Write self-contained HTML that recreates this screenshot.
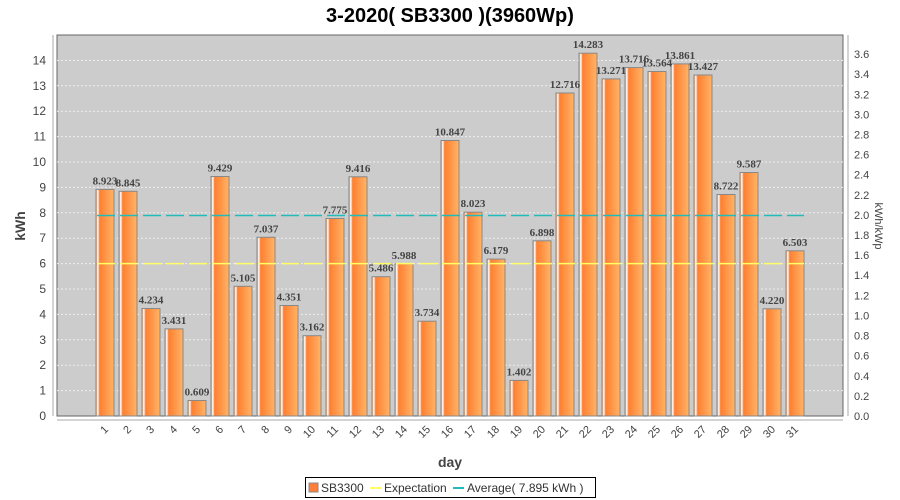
<!DOCTYPE html>
<html><head><meta charset="utf-8"><style>body{margin:0;background:#fff}svg{display:block;font-family:"Liberation Sans",sans-serif}</style></head><body>
<svg width="900" height="500" xmlns="http://www.w3.org/2000/svg">
<defs>
<linearGradient id="g" x1="0" x2="1" y1="0" y2="0">
<stop offset="0" stop-color="#ff8a3a"/><stop offset="0.1" stop-color="#fff"/><stop offset="0.2" stop-color="#ff7f30"/><stop offset="1" stop-color="#ffb468"/>
</linearGradient>
</defs>
<text x="450" y="22" text-anchor="middle" font-size="20" font-weight="bold" fill="#000">3-2020( SB3300 )(3960Wp)</text>
<rect x="57" y="35" width="786" height="381" fill="#cccccc" stroke="#666" stroke-width="1"/>
<g stroke="#eee" stroke-dasharray="2,2" stroke-width="1">
<line x1="57" x2="843" y1="390.6" y2="390.6"/><line x1="57" x2="843" y1="365.2" y2="365.2"/><line x1="57" x2="843" y1="339.8" y2="339.8"/><line x1="57" x2="843" y1="314.4" y2="314.4"/><line x1="57" x2="843" y1="289" y2="289"/><line x1="57" x2="843" y1="263.6" y2="263.6"/><line x1="57" x2="843" y1="238.2" y2="238.2"/><line x1="57" x2="843" y1="212.8" y2="212.8"/><line x1="57" x2="843" y1="187.4" y2="187.4"/><line x1="57" x2="843" y1="162" y2="162"/><line x1="57" x2="843" y1="136.6" y2="136.6"/><line x1="57" x2="843" y1="111.2" y2="111.2"/><line x1="57" x2="843" y1="85.8" y2="85.8"/><line x1="57" x2="843" y1="60.4" y2="60.4"/>
</g>
<g fill="url(#g)" stroke="#888" stroke-width="1">
<rect x="96" y="189.4" width="18" height="226.6"/><rect x="119" y="191.3" width="18" height="224.7"/><rect x="142" y="308.5" width="18" height="107.5"/><rect x="165" y="328.9" width="18" height="87.1"/><rect x="188" y="400.5" width="18" height="15.5"/><rect x="211" y="176.5" width="18" height="239.5"/><rect x="234" y="286.3" width="18" height="129.7"/><rect x="257" y="237.3" width="18" height="178.7"/><rect x="280" y="305.5" width="18" height="110.5"/><rect x="303" y="335.7" width="18" height="80.3"/><rect x="326" y="218.5" width="18" height="197.5"/><rect x="349" y="176.8" width="18" height="239.2"/><rect x="372" y="276.7" width="18" height="139.3"/><rect x="395" y="263.9" width="18" height="152.1"/><rect x="418" y="321.2" width="18" height="94.8"/><rect x="441" y="140.5" width="18" height="275.5"/><rect x="464" y="212.2" width="18" height="203.8"/><rect x="487" y="259.1" width="18" height="156.9"/><rect x="510" y="380.4" width="18" height="35.6"/><rect x="533" y="240.8" width="18" height="175.2"/><rect x="556" y="93" width="18" height="323"/><rect x="579" y="53.2" width="18" height="362.8"/><rect x="602" y="78.9" width="18" height="337.1"/><rect x="625" y="67.6" width="18" height="348.4"/><rect x="648" y="71.5" width="18" height="344.5"/><rect x="671" y="63.9" width="18" height="352.1"/><rect x="694" y="75" width="18" height="341"/><rect x="717" y="194.5" width="18" height="221.5"/><rect x="740" y="172.5" width="18" height="243.5"/><rect x="763" y="308.8" width="18" height="107.2"/><rect x="786" y="250.8" width="18" height="165.2"/>
</g>
<line x1="97" x2="804" y1="263.6" y2="263.6" stroke="#ffff66" stroke-width="1.5" stroke-dasharray="18,5"/>
<line x1="97" x2="804" y1="215.5" y2="215.5" stroke="#22bbbb" stroke-width="1.5" stroke-dasharray="18,5"/>
<g font-family="Liberation Serif,serif" font-weight="bold" font-size="11" fill="#444" text-anchor="middle">
<text x="105" y="184.4">8.923</text><text x="128" y="186.3">8.845</text><text x="151" y="303.5">4.234</text><text x="174" y="323.9">3.431</text><text x="197" y="395.5">0.609</text><text x="220" y="171.5">9.429</text><text x="243" y="281.3">5.105</text><text x="266" y="232.3">7.037</text><text x="289" y="300.5">4.351</text><text x="312" y="330.7">3.162</text><text x="335" y="213.5">7.775</text><text x="358" y="171.8">9.416</text><text x="381" y="271.7">5.486</text><text x="404" y="258.9">5.988</text><text x="427" y="316.2">3.734</text><text x="450" y="135.5">10.847</text><text x="473" y="207.2">8.023</text><text x="496" y="254.1">6.179</text><text x="519" y="375.4">1.402</text><text x="542" y="235.8">6.898</text><text x="565" y="88">12.716</text><text x="588" y="48.2">14.283</text><text x="611" y="73.9">13.271</text><text x="634" y="62.6">13.716</text><text x="657" y="66.5">13.564</text><text x="680" y="58.9">13.861</text><text x="703" y="70">13.427</text><text x="726" y="189.5">8.722</text><text x="749" y="167.5">9.587</text><text x="772" y="303.8">4.220</text><text x="795" y="245.8">6.503</text>
</g>
<line x1="53" x2="53" y1="35" y2="416" stroke="#aaa"/>
<line x1="57" x2="843" y1="420" y2="420" stroke="#aaa"/>
<line x1="848" x2="848" y1="35" y2="416" stroke="#aaa"/>
<g font-size="12" fill="#444" text-anchor="end">
<text x="46" y="420">0</text><text x="46" y="394.6">1</text><text x="46" y="369.2">2</text><text x="46" y="343.8">3</text><text x="46" y="318.4">4</text><text x="46" y="293">5</text><text x="46" y="267.6">6</text><text x="46" y="242.2">7</text><text x="46" y="216.8">8</text><text x="46" y="191.4">9</text><text x="46" y="166">10</text><text x="46" y="140.6">11</text><text x="46" y="115.2">12</text><text x="46" y="89.8">13</text><text x="46" y="64.4">14</text>
</g>
<g font-size="11" fill="#444">
<text x="854" y="420">0.0</text><text x="854" y="399.9">0.2</text><text x="854" y="379.8">0.4</text><text x="854" y="359.7">0.6</text><text x="854" y="339.6">0.8</text><text x="854" y="319.5">1.0</text><text x="854" y="299.3">1.2</text><text x="854" y="279.2">1.4</text><text x="854" y="259.1">1.6</text><text x="854" y="239">1.8</text><text x="854" y="218.9">2.0</text><text x="854" y="198.8">2.2</text><text x="854" y="178.7">2.4</text><text x="854" y="158.6">2.6</text><text x="854" y="138.5">2.8</text><text x="854" y="118.4">3.0</text><text x="854" y="98.3">3.2</text><text x="854" y="78.2">3.4</text><text x="854" y="58.1">3.6</text>
</g>
<g font-size="11" fill="#444" text-anchor="end">
<text transform="translate(109,430) rotate(-45)">1</text><text transform="translate(132,430) rotate(-45)">2</text><text transform="translate(155,430) rotate(-45)">3</text><text transform="translate(178,430) rotate(-45)">4</text><text transform="translate(201,430) rotate(-45)">5</text><text transform="translate(224,430) rotate(-45)">6</text><text transform="translate(247,430) rotate(-45)">7</text><text transform="translate(270,430) rotate(-45)">8</text><text transform="translate(293,430) rotate(-45)">9</text><text transform="translate(316,430) rotate(-45)">10</text><text transform="translate(339,430) rotate(-45)">11</text><text transform="translate(362,430) rotate(-45)">12</text><text transform="translate(385,430) rotate(-45)">13</text><text transform="translate(408,430) rotate(-45)">14</text><text transform="translate(431,430) rotate(-45)">15</text><text transform="translate(454,430) rotate(-45)">16</text><text transform="translate(477,430) rotate(-45)">17</text><text transform="translate(500,430) rotate(-45)">18</text><text transform="translate(523,430) rotate(-45)">19</text><text transform="translate(546,430) rotate(-45)">20</text><text transform="translate(569,430) rotate(-45)">21</text><text transform="translate(592,430) rotate(-45)">22</text><text transform="translate(615,430) rotate(-45)">23</text><text transform="translate(638,430) rotate(-45)">24</text><text transform="translate(661,430) rotate(-45)">25</text><text transform="translate(684,430) rotate(-45)">26</text><text transform="translate(707,430) rotate(-45)">27</text><text transform="translate(730,430) rotate(-45)">28</text><text transform="translate(753,430) rotate(-45)">29</text><text transform="translate(776,430) rotate(-45)">30</text><text transform="translate(799,430) rotate(-45)">31</text>
</g>
<text x="450" y="467" text-anchor="middle" font-size="14" font-weight="bold" fill="#444">day</text>
<text transform="translate(25,226) rotate(-90)" text-anchor="middle" font-size="14" font-weight="bold" fill="#444">kWh</text>
<text transform="translate(875,226) rotate(90)" text-anchor="middle" font-size="11" fill="#444">kWh/kWp</text>
<rect x="305.5" y="477.5" width="290" height="20" fill="#fff" stroke="#000"/>
<rect x="309" y="483" width="9" height="9" fill="#ff7f3a" stroke="#888"/>
<text x="321" y="492" font-size="12" fill="#333">SB3300</text>
<line x1="370" x2="381" y1="488" y2="488" stroke="#ffff66" stroke-width="2"/>
<text x="384" y="492" font-size="12" fill="#333">Expectation</text>
<line x1="453" x2="464" y1="488" y2="488" stroke="#22bbbb" stroke-width="2"/>
<text x="467" y="492" font-size="12" fill="#333">Average( 7.895 kWh )</text>
</svg>
</body></html>
